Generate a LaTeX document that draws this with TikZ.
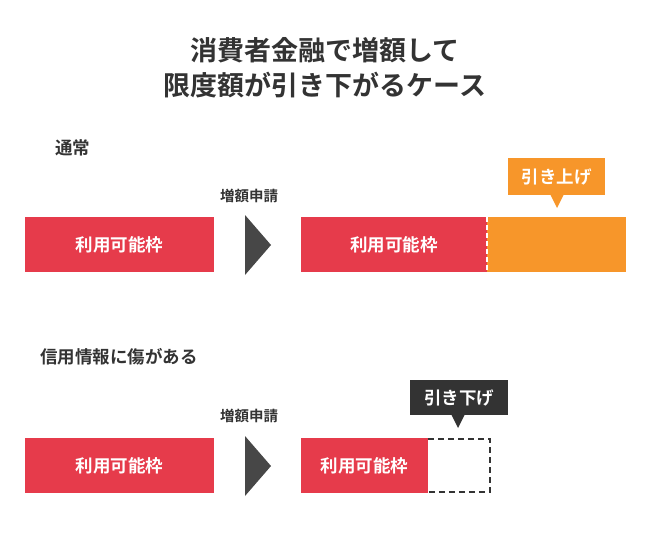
\documentclass[tikz,border=0pt]{standalone}
\usepackage{fontspec}
\setmainfont{Noto Sans CJK JP}[BoldFont={* Bold}]
\definecolor{myred}{HTML}{E63B4B}
\definecolor{myorange}{HTML}{F7962A}
\definecolor{mydark}{HTML}{333333}
\definecolor{mytext}{HTML}{333333}
\begin{document}
\begin{tikzpicture}[x=1pt,y=-1pt,
  bar/.style={fill=myred,draw=none,text=white,font=\bfseries\fontsize{17.5}{17.5}\selectfont},
  lbl/.style={text=mytext,font=\bfseries\fontsize{14.5}{14.5}\selectfont,anchor=west,inner sep=0},
  head/.style={text=mytext,font=\bfseries\fontsize{17.5}{17.5}\selectfont,anchor=west,inner sep=0},
  tri/.style={fill=mydark!90},
  call/.style={text=white,font=\bfseries\fontsize{17.5}{17.5}\selectfont}]
\useasboundingbox (0,0) rectangle (650,533);
\node[text=mytext,font=\bfseries\fontsize{27}{35}\selectfont,align=center] (title) at (325,68) {消費者金融で増額して\\限度額が引き下がるケース};
\node[head] (n1) at (55,148) {通常};
% row 1
\fill[myred] (25,217) rectangle (214,272);
\node[bar] (a1) at (119.5,244.5) {利用可能枠};
\node[lbl,anchor=center] (r1) at (249,196) {増額申請};
\fill[tri] (245,215) -- (271,245) -- (245,275) -- cycle;
\fill[myred] (301,217) rectangle (487,272);
\node[bar] (b1) at (394,244.5) {利用可能枠};
\fill[myorange] (487,217) rectangle (626,272);
\draw[white,line width=2pt,dash pattern=on 5pt off 3pt] (487,217) -- (487,272);
\fill[myorange] (508,158) rectangle (605,195);
\fill[myorange] (550,194) -- (564,194) -- (557,208) -- cycle;
\node[call] (c1) at (556.5,176.5) {引き上げ};
% row 2
\node[head] (n2) at (40,357) {信用情報に傷がある};
\fill[myred] (25,438) rectangle (214,493);
\node[bar] (a2) at (119.5,465.5) {利用可能枠};
\node[lbl,anchor=center] (r2) at (249,416) {増額申請};
\fill[tri] (245,436) -- (271,466) -- (245,496) -- cycle;
\fill[myred] (301,438) rectangle (428,493);
\node[bar] (b2) at (364.5,465.5) {利用可能枠};
\draw[mydark,line width=2.5pt,dash pattern=on 6pt off 4pt] (428,439) -- (490,439) -- (490,492) -- (428,492);
\fill[mydark] (410,380) rectangle (508,415);
\fill[mydark] (451,414) -- (465,414) -- (458,428) -- cycle;
\node[call] (c2) at (459,397.5) {引き下げ};
\end{tikzpicture}
\end{document}
